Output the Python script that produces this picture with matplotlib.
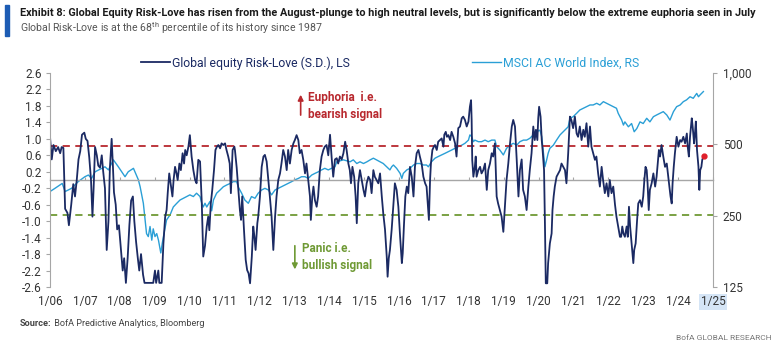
import numpy as np
import matplotlib
matplotlib.use("Agg")
import matplotlib.pyplot as plt
from matplotlib.patches import Rectangle

plt.rcParams['font.family'] = ['Roboto', 'DejaVu Sans']
plt.rcParams['mathtext.fontset'] = 'custom'
plt.rcParams['mathtext.rm'] = 'Roboto'
plt.rcParams['mathtext.bf'] = 'Roboto:bold'

# months since Jan 2006, value (S.D.)
risk_love = [
    (0, 1.05), (0.6, 0.5), (1.2, 0.85), (2, 0.7), (2.8, 0.8), (3.5, 0.65), (4, 0.8), (4.6, 0.78),
    (5.2, -0.7), (6, -0.8), (6.5, -1.1), (7.3, -0.6), (8, -0.1), (8.6, -0.4), (9.2, 0.0), (9.8, 0.5),
    (10.4, 0.7), (11, 1.1), (11.8, 1.15), (12.3, 1.0), (12.9, 0.95), (13.5, 0.55), (14.1, 0.0),
    (14.6, -0.89), (15, -0.2), (15.5, 0.8), (16.1, 0.6), (16.6, 0.35), (17.2, 0.3), (17.8, 0.6),
    (18.3, 0.2), (18.9, -0.2), (19.5, -1.7), (20.1, -1.0), (20.6, 0.3), (21.2, 1.0), (21.6, 0.4),
    (22, -0.3), (22.6, -0.6), (23.1, -1.2), (23.7, -1.1), (24.4, -1.7), (25, -2.2), (25.5, -1.9),
    (26.1, -2.5), (26.7, -1.9), (27.3, -1.1), (27.9, -0.5), (28.5, -0.4), (29, -1.0), (29.6, -1.5),
    (30.2, -1.9), (30.7, -2.2), (31.3, -1.8), (32, -2.3), (32.5, -2.5), (33.5, -2.5), (34.5, -2.5),
    (35.5, -2.5), (36.1, -2.2), (36.5, -2.5), (37.25, -2.2), (37.6, -2.5), (38.4, -2.5), (39, -1.54),
    (39.6, -0.9), (40.1, -0.73), (40.5, -0.3), (41, 0.16), (41.5, -0.1), (42.1, -0.4), (42.5, 0.0),
    (43, 0.32), (43.5, 0.16), (43.9, 0.0), (44.5, 0.4), (45, 0.24), (45.6, 0.65), (46.1, 0.4),
    (46.5, 0.73), (47, 0.6), (47.6, 0.81), (48.1, 1.09), (48.7, 0.57), (49.3, 0.24), (49.9, 0.0),
    (50.4, -0.08), (51, 0.49), (51.6, 0.45), (52.2, -0.57), (52.7, -1.86), (53.3, -1.6), (53.9, -1.13),
    (54.4, -0.89), (54.8, -1.22), (55.3, -0.57), (55.8, -0.24), (56.4, 0.24), (56.9, 0.73), (57.4, 0.81),
    (57.9, 0.85), (58.5, 0.77), (59, 0.89), (59.6, 0.85), (60.2, 0.89), (60.7, 0.73), (61.3, 0.57),
    (61.8, 0.4), (62.2, -0.32), (62.8, 0.73), (63.4, 0.81), (63.6, 0.73), (64.2, 0.3), (64.7, -0.16),
    (65.3, -0.73), (65.7, -0.97), (66.1, -0.4), (66.7, -1.2), (67.3, -1.94), (67.8, -2.19), (68.3, -2.27),
    (68.8, -2.51), (69.4, -1.86), (69.9, -1.13), (70.3, -1.38), (70.7, -1.7), (71.3, -1.05), (71.6, -0.89),
    (72.2, -0.4), (72.8, 0.32), (73.4, 0.57), (73.9, 0.61), (74.5, 0.45), (75.1, 0.0), (75.6, -0.4),
    (76.2, -0.89), (76.8, -1.7), (77.4, -0.89), (77.9, -0.4), (78.5, 0.0), (79.1, 0.16), (79.6, 0.4),
    (80.2, 0.73), (80.8, 0.57), (81.4, 0.24), (81.9, 0.73), (82.5, 0.4), (83.1, 0.73), (83.7, 0.89),
    (84.2, 0.97), (84.8, 1.09), (85.4, 0.97), (85.9, 0.65), (86.5, 0.73), (87.1, 0.49), (87.7, 0.16),
    (88.2, 0.4), (88.8, 0.0), (89.4, -0.4), (89.7, -0.97), (90.2, -0.4), (90.6, -0.16), (91.1, -0.49),
    (91.7, -0.65), (92.2, -0.4), (92.8, 0.24), (93.4, 0.57), (94, 0.73), (94.5, 0.81), (95.1, 0.85),
    (95.7, 0.6), (96.3, 1.1), (96.9, 0.5), (97.4, 0.08), (98, 0.5), (98.6, 0.53), (99.1, 0.4),
    (99.7, 0.57), (100.3, 0.5), (100.9, 0.65), (101.5, 0.93), (102, 0.73), (102.6, 0.4), (103.1, 0.24),
    (103.5, -0.08), (104, 0.32), (104.6, 0.08), (105.1, -0.4), (105.5, -1.05), (106, -0.08), (106.6, 0.24),
    (107.2, 0.0), (107.8, -0.24), (108.3, -0.4), (108.9, -0.08), (109.5, 0.08), (110.1, 0.0),
    (110.6, -0.32), (111.2, 0.24), (111.7, 0.08), (112.3, 0.0), (112.9, -0.08), (113.5, 0.16),
    (114.1, -0.4), (114.6, -0.81), (115.2, -1.2), (115.8, -1.86), (116.1, -2.35), (116.5, -1.9),
    (116.9, -1.7), (117.5, -1.2), (118.1, -0.57), (118.6, -0.08), (119.2, -0.24), (119.8, -0.65),
    (120.4, -1.38), (121, -2.02), (121.3, -1.78), (121.7, -1.13), (122.2, -0.4), (122.7, -0.16),
    (123.2, -0.32), (123.8, 0.32), (124.4, 0.08), (125, -0.4), (125.5, 0.32), (126.1, 0.65),
    (126.7, 0.73), (127.2, 0.57), (127.8, 0.4), (128.4, 0.08), (129, -0.08), (129.5, -0.16),
    (129.9, -0.57), (130.3, -0.97), (130.7, 0.0), (131, 0.4), (131.5, 0.73), (132, 0.81), (132.4, 0.85),
    (133, 0.73), (133.5, 0.93), (134.1, 0.97), (134.7, 1.01), (135.3, 0.81), (135.6, 1.1), (136.1, 1.17),
    (136.5, 1.05), (137, 1.09), (137.6, 0.97), (138.1, 1.17), (138.7, 1.05), (139.3, 0.89), (139.8, 0.57),
    (140.4, 1.26), (141, 1.3), (141.6, 1.5), (142.1, 1.54), (142.7, 1.46), (143.3, 1.3), (143.9, 1.42),
    (144.4, 1.78), (144.8, 1.94), (145, 1.46), (145.2, 0.49), (145.6, 0.08), (146.1, 0.32), (146.4, 0.57),
    (146.7, 0.08), (147.3, 0.24), (147.9, 0.32), (148.4, 0.16), (149, 0.24), (149.6, 0.4), (150.2, -0.24),
    (150.7, 0.24), (151.3, 0.4), (151.9, 0.65), (152.4, 0.57), (153, 0.89), (153.6, -0.4), (154.1, -0.57),
    (154.7, -0.73), (155.3, -0.89), (155.9, -1.26), (156.5, -0.57), (157, 0.0), (157.6, 0.4),
    (158.2, 0.89), (158.8, 1.3), (159.3, 1.46), (159.9, 1.3), (160.5, 0.49), (161.1, -0.4), (161.6, 0.24),
    (162.2, 0.5), (162.7, -0.24), (163.3, -0.4), (163.9, -0.73), (164.5, -0.16), (165, 0.24),
    (165.6, 0.65), (166.2, 1.3), (166.7, 0.97), (167.1, 1.22), (167.6, 0.97), (167.9, 1.5), (168.2, 1.78),
    (168.7, 1.54), (169.1, 0.97), (169.4, 0.73), (169.9, 0.24), (170.2, -1.05), (170.5, -2.51),
    (171, -2.51), (171.3, -2.02), (171.9, -1.54), (172.5, -1.3), (172.8, -0.73), (173.2, -0.4),
    (173.6, -0.16), (174.2, 0.08), (174.8, 0.16), (175.4, 0.24), (175.9, 0.4), (176.5, 0.32),
    (177.1, 0.24), (177.6, -0.08), (178.2, 0.65), (178.8, 1.54), (179.3, 1.46), (179.9, 1.26),
    (180.5, 1.54), (181.1, 1.13), (181.6, 1.05), (182.2, 1.3), (182.8, 0.97), (183.4, 1.22),
    (183.9, 1.05), (184.5, 1.38), (185.1, 0.81), (185.7, 1.3), (186.2, 0.81), (186.8, 0.65),
    (187.4, 0.49), (187.9, 0.57), (188.5, 0.16), (189.1, -0.16), (189.7, 0.32), (190.2, 0.0),
    (190.8, -0.32), (191.4, -0.08), (192, -0.4), (192.5, 0.0), (193.1, -0.32), (193.7, -0.16),
    (194.3, -0.6), (194.8, -0.89), (195.4, -1.13), (196, -1.38), (196.4, -1.38), (196.8, -1.13),
    (197.2, -1.3), (197.7, -1.38), (198.3, -1.13), (198.7, -1.38), (199.1, -0.65), (199.5, -1.13),
    (200, -1.54), (200.3, -1.78), (200.6, -2.02), (200.9, -1.7), (201.4, -1.54), (201.9, -0.97),
    (202.3, -0.57), (202.9, -0.49), (203.5, -0.65), (204, -0.4), (204.4, 0.0), (204.8, 0.32),
    (205.2, 0.24), (205.5, -0.08), (205.9, -0.73), (206.3, -0.24), (206.9, -0.08), (207.5, 0.16),
    (208.1, -0.16), (208.6, 0.08), (209, 0.4), (209.4, 0.73), (209.8, 0.57), (210.3, 0.85),
    (210.9, 0.57), (211.5, 0.32), (212.1, 0.4), (212.6, 0.08), (213, -0.16), (213.4, -0.4),
    (213.8, -0.57), (214.1, -0.08), (214.5, 0.32), (214.9, 0.65), (215.5, 1.05), (216.1, 0.81),
    (216.7, 0.97), (217.2, 0.93), (217.8, 1.05), (218.4, 0.89), (219, 1.13), (219.3, 0.81),
    (219.7, 0.57), (220.1, 1.05), (220.7, 1.5), (221, 1.3), (221.5, 0.89), (221.8, 1.13), (222.1, 1.42),
    (222.5, 0.73), (223, 0.32), (223.3, -0.24), (223.6, 0.24), (224, 0.32), (224.3, 0.49), (224.7, 0.57),
]

# months since Jan 2006, index level
msci = [
    (0, 316), (1.7, 326), (4.2, 342), (5.2, 316), (7.4, 326), (9.7, 348), (12, 365), (13.2, 371),
    (14.3, 359), (15.5, 383), (17.8, 396), (18.9, 402), (20.1, 390), (21.8, 430), (23.5, 402),
    (25.8, 365), (26.9, 383), (28.7, 396), (30.4, 354), (31, 331), (32.1, 282), (32.7, 240), (33.2, 210),
    (33.8, 204), (34.4, 225), (35, 197), (35.5, 220), (36.1, 204), (36.7, 210), (37.3, 197), (38.1, 174),
    (38.6, 191), (39.2, 210), (40.1, 240), (41.3, 252), (42.4, 272), (43.6, 282), (44.7, 291),
    (45.9, 296), (47, 301), (48.1, 306), (49.3, 301), (50.4, 311), (51.6, 301), (52.2, 282), (52.7, 272),
    (53.3, 282), (53.9, 272), (55, 287), (55.6, 262), (56.2, 291), (57.3, 311), (58.5, 321), (59.6, 331),
    (60.8, 337), (62, 342), (63, 348), (64.2, 348), (64.7, 331), (65.9, 311), (67, 291), (68.2, 282),
    (69.3, 301), (70.5, 296), (71.6, 311), (72.8, 321), (73.9, 326), (75.1, 321), (76.2, 306),
    (77.4, 321), (78.5, 326), (79.6, 331), (80.8, 337), (81.9, 342), (83.1, 348), (84.2, 354),
    (85.4, 359), (86.5, 365), (87.7, 365), (88.8, 359), (90, 371), (91.1, 377), (92.3, 383), (93.4, 390),
    (94.5, 396), (95.7, 390), (96.8, 396), (98, 402), (98.6, 422), (100.9, 430), (103.2, 422),
    (104.3, 430), (105.5, 415), (106.6, 422), (107.8, 415), (109, 422), (110.1, 430), (111.2, 437),
    (112.3, 430), (113.5, 422), (114.6, 415), (115.8, 402), (116.9, 390), (117.5, 402), (118.1, 409),
    (119.2, 396), (120.4, 377), (121, 359), (121.5, 377), (122.7, 390), (123.8, 396), (125, 409),
    (126.1, 415), (127.2, 415), (128.4, 409), (129.5, 409), (130.1, 402), (131.2, 422), (132.4, 437),
    (133.5, 444), (134.7, 451), (135.8, 458), (137, 466), (138.1, 473), (139.3, 481), (140.4, 489),
    (141.6, 496), (142.7, 505), (143.9, 521), (144.4, 548), (145, 539), (145.6, 513), (146.1, 521),
    (147.3, 513), (148.4, 513), (149.6, 521), (150.7, 513), (151.9, 521), (153, 521), (153.6, 489),
    (154.7, 473), (155.9, 451), (157, 481), (158.2, 496), (159.3, 505), (160.5, 496), (161.6, 513),
    (162.8, 521), (163.9, 521), (165, 530), (166.2, 548), (167.3, 565), (168.5, 574), (169.1, 539),
    (169.6, 473), (170.2, 402), (170.8, 430), (171.3, 458), (171.9, 481), (173.1, 496), (174.2, 521),
    (175.4, 548), (176.5, 565), (177.6, 583), (178.2, 593), (178.8, 644), (179.9, 654), (181.1, 676),
    (182.2, 698), (183.4, 710), (184.5, 721), (185.7, 733), (186.8, 733), (188, 745), (189.1, 733),
    (190.3, 757), (191.4, 745), (192.5, 733), (193.7, 721), (194.8, 710), (195.4, 676), (196.6, 633),
    (197.2, 603), (197.7, 622), (198.9, 593), (200, 612), (200.9, 565), (201.8, 583), (202.9, 622),
    (204, 612), (205.2, 644), (206.3, 622), (207.5, 654), (208.6, 665), (209.8, 676), (210.9, 687),
    (212.1, 665), (213.2, 633), (214.4, 687), (215.5, 721), (216.7, 733), (217.8, 757), (218.9, 770),
    (220.1, 794), (221.2, 782), (222.4, 820), (223, 794), (223.5, 807), (224.7, 835),
]

latest = (224.8, 0.58)
euphoria_level = 0.82
panic_level = -0.84

year_labels = ['1/%02d' % (y % 100) for y in range(2006, 2026)]
left_ticks = [2.6, 2.2, 1.8, 1.4, 1.0, 0.6, 0.2, -0.2, -0.6, -1.0, -1.4, -1.8, -2.2, -2.6]
right_ticks = [125, 250, 500, 1000]
right_labels = ['125', '250', '500', '1,000']

title = ("Exhibit 8: Global Equity Risk-Love has risen from the August-plunge to high neutral levels, "
         "but is significantly below the extreme euphoria seen in July")
subtitle = "Global Risk-Love is at the 68$^{\\mathrm{th}}$ percentile of its history since 1987"

NAVY = '#1b2a63'
LIGHT = '#2a9fd6'
RED = '#b8282e'
GREEN = '#6f9a35'
GREY = '#a6a6a6'
TXT = '#333333'

rl = np.array(risk_love)
ms = np.array(msci)

W, H = 780, 345
fig = plt.figure(figsize=(W / 100, H / 100), dpi=100)
ax = fig.add_axes([50 / W, 1 - 287 / H, 663 / W, 214 / H])
ax2 = ax.twinx()
ax.set_zorder(ax2.get_zorder() + 1)
ax.patch.set_visible(False)

ax2.plot(ms[:, 0], ms[:, 1], color=LIGHT, lw=1.0, label='MSCI AC World Index, RS')
ax2.set_yscale('log')
ax2.set_ylim(125, 1000)
ax2.set_yticks(right_ticks)
ax2.set_yticklabels(right_labels)
ax2.minorticks_off()

ax.axhline(euphoria_level, color=RED, lw=1.3, dashes=(4, 3))
ax.axhline(panic_level, color=GREEN, lw=1.3, dashes=(4, 3))
ax.plot(rl[:, 0], rl[:, 1], color=NAVY, lw=1.3, label='Global equity Risk-Love (S.D.), LS')
ax.plot(*latest, 'o', color='#e0202a', ms=3.5, zorder=5)

ax.set_xlim(0, 12 * (len(year_labels) - 1))
ax.set_ylim(-2.6, 2.6)
ax.set_yticks(left_ticks)
ax.set_yticklabels(['%.1f' % v for v in left_ticks])
xt = np.arange(len(year_labels)) * 12
ax.set_xticks(xt)
ax.set_xticklabels(year_labels)
ax.tick_params(axis='x', length=0, pad=6, labelsize=8.5, colors=TXT)
ax.tick_params(axis='y', length=3, width=0.8, color=GREY, labelsize=8.5, labelcolor=TXT, pad=3)
ax2.tick_params(axis='y', length=3, width=0.8, color=GREY, labelsize=8.5, labelcolor=TXT, pad=4)
ax.get_xticklabels()[-1].set_bbox(dict(facecolor='#d5e5f6', edgecolor='none', pad=1))

for a in (ax, ax2):
    for s in ('top', 'bottom'):
        a.spines[s].set_visible(False)
    for s in ('left', 'right'):
        a.spines[s].set_color(GREY)
        a.spines[s].set_linewidth(0.8)
ax.spines['right'].set_visible(False)
ax2.spines['left'].set_visible(False)

# zero line carrying the year ticks
sec = ax.secondary_xaxis(0.5)
sec.set_xticks(xt)
sec.tick_params(length=2.5, width=0.8, color=GREY, labeltop=False, labelbottom=False)
sec.spines['top'].set_color(GREY)
sec.spines['top'].set_linewidth(1.0)
sec.spines['bottom'].set_visible(False)

# signal notes
ax.annotate('', xy=(86.2, 2.14), xytext=(86.2, 1.51),
            arrowprops=dict(arrowstyle='-|>', color=RED, lw=1.2, mutation_scale=8))
ax.text(88.7, 1.80, 'Euphoria  i.e.\nbearish signal', color=RED, fontsize=8.5,
        fontweight='bold', va='center', ha='left', linespacing=1.35)
ax.annotate('', xy=(84.2, -2.24), xytext=(84.2, -1.53),
            arrowprops=dict(arrowstyle='-|>', color=GREEN, lw=1.2, mutation_scale=8))
ax.text(86.5, -1.87, 'Panic i.e.\nbullish signal', color=GREEN, fontsize=8.5,
        fontweight='bold', va='center', ha='left', linespacing=1.35)

h1, l1 = ax.get_legend_handles_labels()
h2, l2 = ax2.get_legend_handles_labels()
leg = fig.legend(h1 + h2, l1 + l2, loc='center', bbox_to_anchor=(390 / W, 1 - 63 / H), ncol=2,
                 frameon=False, fontsize=8.8, handlelength=2.4, handletextpad=0.15,
                 columnspacing=10.0, borderpad=0)
leg.get_texts()[0].set_color(NAVY)
leg.get_texts()[1].set_color(LIGHT)

fig.patches.append(Rectangle((5 / W, 1 - 36 / H), 4 / W, 31 / H, transform=fig.transFigure,
                             color='#1d5cb4'))
fig.text(20 / W, 1 - 13 / H, title, fontsize=7.8, fontweight='bold', color='#1a1a1a', va='center')
fig.text(20 / W, 1 - 28 / H, subtitle, fontsize=7.6, color='#555555', va='center')
src = fig.text(20 / W, 1 - 323 / H, 'Source:', fontsize=6.6, fontweight='bold',
               color='#444444', va='center')
ax.annotate(' BofA Predictive Analytics, Bloomberg', xy=(1, 0.5), xycoords=src,
            fontsize=6.6, color='#444444', va='center', ha='left', annotation_clip=False)
fig.text(772 / W, 1 - 338 / H, 'BofA GLOBAL RESEARCH', fontsize=6, color='#777777',
         va='center', ha='right')

fig.savefig('out.png', dpi=100)
